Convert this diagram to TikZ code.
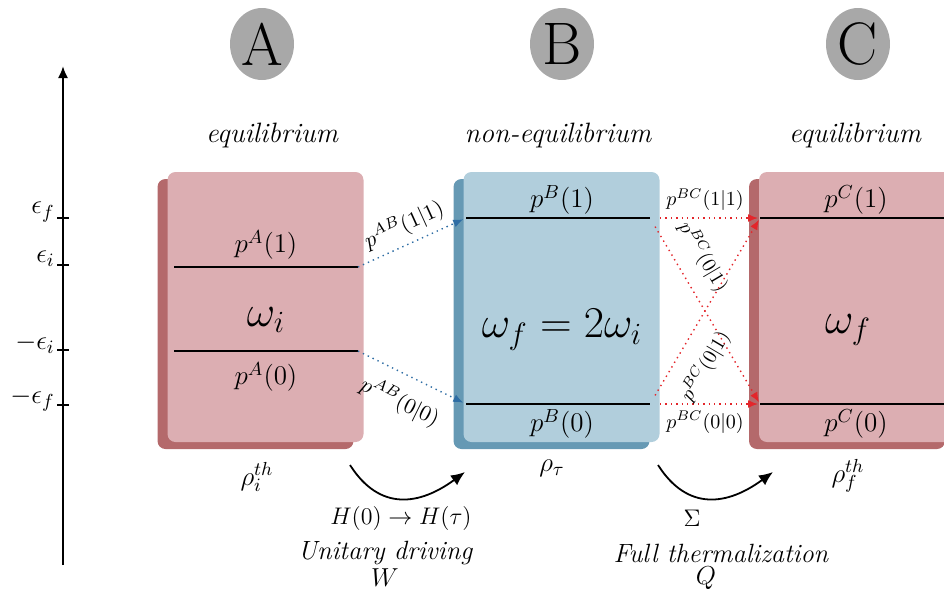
\documentclass[tikz,border=0pt]{standalone}
\usepackage{fix-cm}
\usepackage{fontspec}
\usetikzlibrary{shapes.geometric, arrows.meta, positioning, calc, shadows}
\definecolor{stateA}{HTML}{DCAEB2}
\definecolor{stateAdark}{HTML}{B4696B}
\definecolor{stateB}{HTML}{B1CEDC}
\definecolor{stateBdark}{HTML}{6699B4}
\definecolor{tagbg}{HTML}{A8A8A8}
\definecolor{linkblue}{HTML}{2E6DA4}
\definecolor{linkred}{HTML}{E3262B}
\newcommand{\lblsize}{\fontsize{13.5}{16}\selectfont}

\tikzset{
  statebox/.style={rounded corners=4pt, minimum width=98pt, minimum height=135pt, inner sep=0pt},
  pinkbox/.style={statebox, fill=stateA,
    drop shadow={shadow xshift=-5pt, shadow yshift=-3.5pt, opacity=1, fill=stateAdark}},
  bluebox/.style={statebox, fill=stateB,
    drop shadow={shadow xshift=-5pt, shadow yshift=-3.5pt, opacity=1, fill=stateBdark}},
  tagdisc/.style={ellipse, fill=tagbg, minimum width=32pt, minimum height=36pt, inner sep=0pt,
    text depth=0pt, font=\fontsize{30}{30}\selectfont},
  headline/.style={font=\itshape\fontsize{14}{16}\selectfont},
  energy/.style={line width=1pt},
  ablink/.style={draw=linkblue, dotted, line width=0.7pt, -{Latex[length=5pt,width=4pt]}, shorten >=1.5pt},
  bclink/.style={draw=linkred, dotted, line width=0.7pt, -{Latex[length=5pt,width=4pt]}, shorten <=5pt, shorten >=1pt},
  process/.style={line width=0.9pt, -{Latex[length=7pt,width=6pt]}},
}

\begin{document}
\begin{tikzpicture}[x=0.5pt, y=-0.5pt, font=\lblsize]
  \useasboundingbox (0,0) rectangle (944,596);

  % energy axis
  \draw[line width=1pt, -{Latex[length=6pt,width=5pt]}] (63,565) coordinate (axbot) -- (63,66) coordinate (axtop);
  \foreach \y/\lab/\nm in {218/\epsilon_f/ef, 265/\epsilon_i/ei, 350/-\epsilon_i/mei, 405/-\epsilon_f/mef}{
    \draw[line width=1.2pt] (57,\y) -- (69,\y);
    \node[anchor=east, inner sep=1pt] (tick\nm) at (57,\y-6) {$\lab$};
  }

  % the three states
  \node[tagdisc] (tagA) at (262,44) {A};
  \node[tagdisc] (tagB) at (562,44) {B};
  \node[tagdisc] (tagC) at (858,44) {C};
  \node[headline] (titleA) at (272,135) {equilibrium};
  \node[headline] (titleB) at (558,135) {non-equilibrium};
  \node[headline] (titleC) at (855,135) {equilibrium};

  \node[pinkbox] (boxA) at (265.5,307) {};
  \node[bluebox] (boxB) at (561.5,307) {};
  \node[pinkbox] (boxC) at (857,307) {};

  % levels
  \draw[energy] (174,267) coordinate (a1w) -- (358,267) coordinate (a1e);
  \draw[energy] (174,351) coordinate (a0w) -- (358,351) coordinate (a0e);
  \draw[energy] (466,218) coordinate (b1w) -- (650,218) coordinate (b1e);
  \draw[energy] (466,404) coordinate (b0w) -- (650,404) coordinate (b0e);
  \draw[energy] (760,218) coordinate (c1w) -- (950,218) coordinate (c1e);
  \draw[energy] (760,404) coordinate (c0w) -- (950,404) coordinate (c0e);

  \node (pA1) at (266,245) {$p^A(1)$};
  \node[font=\fontsize{22}{24}\selectfont] (wA) at (266,320) {$\omega_i$};
  \node (pA0) at (266,377) {$p^A(0)$};
  \node (pB1) at (562,200) {$p^B(1)$};
  \node[font=\fontsize{22}{24}\selectfont] (wB) at (562,330) {$\omega_f = 2\omega_i$};
  \node (pB0) at (562,424) {$p^B(0)$};
  \node (pC1) at (856,200) {$p^C(1)$};
  \node[font=\fontsize{22}{24}\selectfont] (wC) at (848,330) {$\omega_f$};
  \node (pC0) at (856,424) {$p^C(0)$};

  % transitions
  \draw[ablink] (a1e) -- node[midway, sloped, above, font=\fontsize{11}{13}\selectfont] {$p^{AB}(1|1)$} (b1w);
  \draw[ablink] (a0e) -- node[midway, sloped, below=4pt, font=\fontsize{11}{13}\selectfont] {$p^{AB}(0|0)$} (b0w);
  \draw[bclink] (b1e) -- node[midway, above, font=\fontsize{10}{12}\selectfont] {$p^{BC}(1|1)$} (c1w);
  \draw[bclink] (b0e) -- node[midway, below, font=\fontsize{10}{12}\selectfont] {$p^{BC}(0|0)$} (c0w);
  \draw[bclink] (b1e) -- node[pos=0.28, sloped, above=4pt, font=\fontsize{10}{12}\selectfont] {$p^{BC}(0|1)$} (c0w);
  \draw[bclink] (b0e) -- node[pos=0.28, sloped, below=5pt, font=\fontsize{10}{12}\selectfont] {$p^{BC}(0|1)$} (c1w);

  % states and processes
  \node (rhoA) at (257,477) {$\rho_i^{th}$};
  \node (rhoB) at (552,468) {$\rho_\tau$};
  \node (rhoC) at (848,476) {$\rho_f^{th}$};

  \coordinate (uA) at (350,465);
  \coordinate (uB) at (465,472);
  \coordinate (tC) at (658,465);
  \coordinate (tD) at (773,472);
  \draw[process] (uA) .. controls (380,512) and (420,505) .. (uB);
  \draw[process] (tC) .. controls (688,512) and (728,505) .. (tD);

  \node[font=\fontsize{12}{14}\selectfont] (hamil) at (401,518) {$H(0) \rightarrow H(\tau)$};
  \node[font=\fontsize{13.2}{15}\selectfont\itshape] (unitary) at (385,553) {Unitary driving};
  \node[font=\fontsize{13}{15}\selectfont] (work) at (385,578) {$W$};
  \node[font=\fontsize{12}{14}\selectfont] (entropy) at (692,518) {$\Sigma$};
  \node[font=\fontsize{13.2}{15}\selectfont\itshape] (thermal) at (721,553) {Full thermalization};
  \node[font=\fontsize{13}{15}\selectfont] (heat) at (706,578) {$Q$};
\end{tikzpicture}
\end{document}
